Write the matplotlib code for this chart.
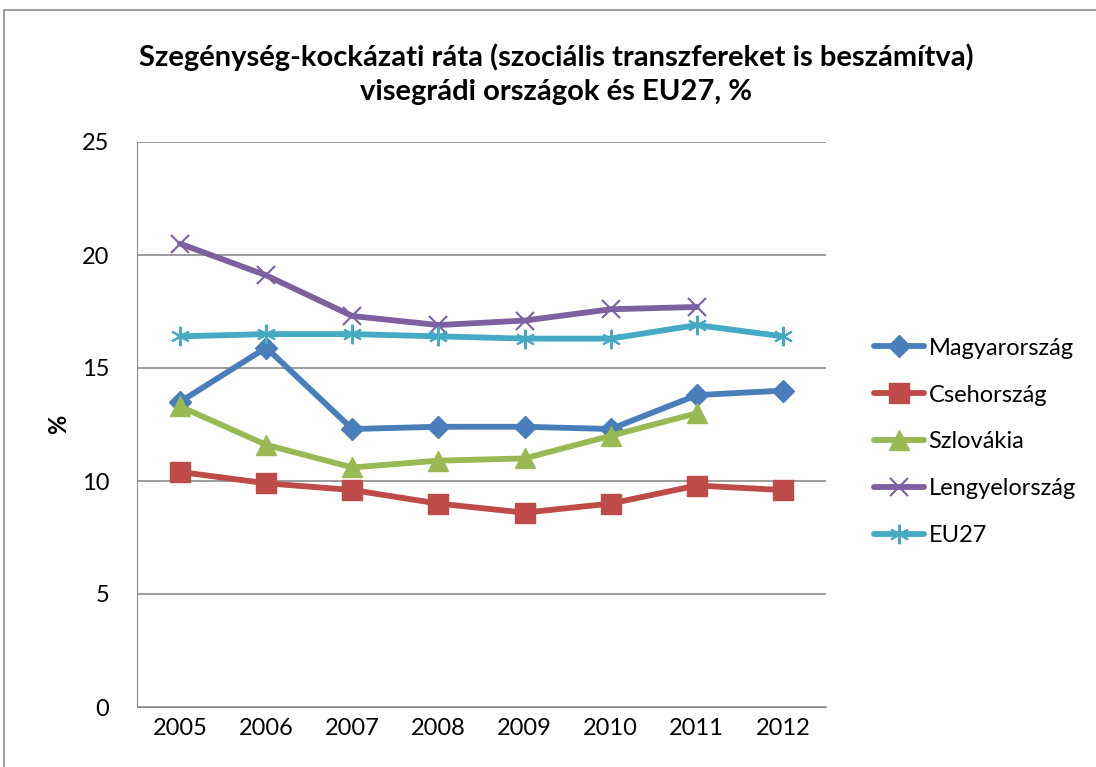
import matplotlib
matplotlib.use("Agg")
import matplotlib.pyplot as plt
from matplotlib.patches import Rectangle

plt.rcParams['font.family'] = ['Lato', 'DejaVu Sans']

years = ['2005', '2006', '2007', '2008', '2009', '2010', '2011', '2012']
magyar = [13.5, 15.9, 12.3, 12.4, 12.4, 12.3, 13.8, 14.0]
cseh = [10.4, 9.9, 9.6, 9.0, 8.6, 9.0, 9.8, 9.6]
szlovak = [13.3, 11.6, 10.6, 10.9, 11.0, 12.0, 13.0]
lengyel = [20.5, 19.1, 17.3, 16.9, 17.1, 17.6, 17.7]
eu27 = [16.4, 16.5, 16.5, 16.4, 16.3, 16.3, 16.9, 16.4]

names = ['Magyarország', 'Csehország', 'Szlovákia', 'Lengyelország', 'EU27']
series = [magyar, cseh, szlovak, lengyel, eu27]
colors = ['#4A7EBB', '#BE4B48', '#98B954', '#7D60A0', '#46AAC5']
markers = ['D', 's', '^', 'x', (6, 2, 0)]
msizes = [11, 14, 14, 13, 14]

fig = plt.figure(figsize=(10.96, 7.67), dpi=100)
fig.patches.append(Rectangle((4/1096, -0.01), 1.0, 1 - 10/767 + 0.01, transform=fig.transFigure,
                             fill=False, edgecolor='#8C8C8C', linewidth=1.2))
ax = fig.add_axes([137/1096, 60/767, 689/1096, 565/767])

for name, vals, c, m, ms in zip(names, series, colors, markers, msizes):
    x = list(range(len(vals)))
    mew = 1.5 if m in ('x',) or isinstance(m, tuple) else 1
    ax.plot(x, vals, color=c, linewidth=4.2, marker=m, markersize=ms,
            markeredgewidth=mew, markerfacecolor=c, markeredgecolor=c,
            label=name, solid_capstyle='round', solid_joinstyle='round')

ax.set_xlim(-0.5, len(years) - 0.5)
ax.set_ylim(0, 25)
ax.set_yticks([0, 5, 10, 15, 20, 25])
ax.set_xticks(range(len(years)))
ax.set_xticklabels(years)
ax.yaxis.grid(True, color='#8C8C8C', linewidth=1.2)
ax.set_axisbelow(True)
for s in ['top', 'right']:
    ax.spines[s].set_visible(False)
ax.spines['left'].set_color('#8C8C8C')
ax.spines['bottom'].set_color('#8C8C8C')
ax.tick_params(axis='both', labelsize=17, length=0, pad=8)
ax.tick_params(axis='y', pad=20)
ax.set_ylabel('%', fontsize=17, fontweight='bold', labelpad=8)

fig.text(556/1096, 1 - 74/767, 'Szegénység-kockázati ráta (szociális transzfereket is beszámítva)\nvisegrádi országok és EU27, %',
         ha='center', va='center', fontsize=21, fontweight='bold', linespacing=1.4)

ax.legend(loc='center left', bbox_to_anchor=(853/1096, 1 - 442/767), bbox_transform=fig.transFigure,
          frameon=False, fontsize=17, handlelength=2.1, labelspacing=1.1, handletextpad=0.2)

fig.savefig('out.png', dpi=100)
